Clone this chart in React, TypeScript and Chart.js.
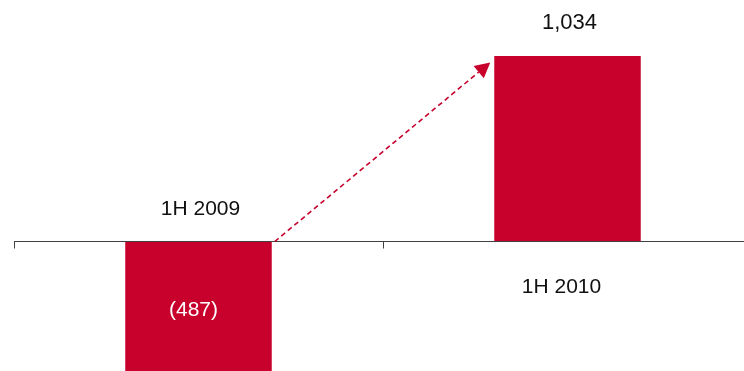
import React, { useEffect, useRef } from "react";
import { Chart, registerables } from "chart.js";

Chart.register(...registerables);

const categories: string[] = ["1H 2009", "1H 2010"];
const values: number[] = [-487, 1034];

const BAR_COLOR = "#C8002C";
const FONT = "'Liberation Sans', Arial, sans-serif";

function fmt(v: number): string {
  return v < 0 ? `(${Math.abs(v).toLocaleString("en-US")})` : v.toLocaleString("en-US");
}

const overlayPlugin = {
  id: "overlay",
  afterDatasetsDraw(chart: any) {
    const ctx: CanvasRenderingContext2D = chart.ctx;
    const area = chart.chartArea;
    const yPos = chart.scales.y;
    const zeroY = Math.round(yPos.getPixelForValue(0)) + 0.5;
    const xs = chart.scales.x;
    ctx.save();
    // axis line
    ctx.strokeStyle = "#404040";
    ctx.lineWidth = 1;
    ctx.beginPath();
    ctx.moveTo(area.left, zeroY);
    ctx.lineTo(area.right, zeroY);
    ctx.stroke();
    // tick marks at category boundaries
    const p0 = xs.getPixelForValue(0);
    const p1 = xs.getPixelForValue(1);
    const bounds = [area.left, (p0 + p1) / 2, area.right];
    ctx.beginPath();
    bounds.forEach((b) => {
      const x = Math.round(b) + 0.5;
      ctx.moveTo(x, zeroY);
      ctx.lineTo(x, zeroY + 7);
    });
    ctx.stroke();

    // bars & labels
    ctx.textAlign = "center";
    ctx.textBaseline = "middle";
    const bars: any[] = [];
    values.forEach((v, i) => {
      const dsIndex = v < 0 ? 0 : 1;
      const el = chart.getDatasetMeta(dsIndex).data[i];
      bars.push(el);
      const cx = el.x;
      ctx.fillStyle = "#111111";
      ctx.font = `21px ${FONT}`;
      if (v < 0) {
        ctx.fillText(categories[i], cx + 2, zeroY - 32);
        ctx.fillStyle = "#FFFFFF";
        ctx.fillText(fmt(v), cx - 5, zeroY + 69);
      } else {
        ctx.fillText(categories[i], cx - 6, zeroY + 46);
        ctx.font = `22px ${FONT}`;
        ctx.fillText(fmt(v), cx + 2, el.y - 33);
      }
    });

    // dashed arrow from bar 1 to bar 2
    const b1 = bars[0];
    const b2 = bars[1];
    const sx = b1.x + b1.width / 2 + 3;
    const sy = zeroY;
    const ex = b2.x - b2.width / 2 - 4;
    const ey = b2.y + 6.5;
    const ang = Math.atan2(ey - sy, ex - sx);
    const headLen = 15;
    const headW = 8;
    const lx = ex - headLen * Math.cos(ang);
    const ly = ey - headLen * Math.sin(ang);
    ctx.strokeStyle = BAR_COLOR;
    ctx.lineWidth = 1.6;
    ctx.setLineDash([5, 3.5]);
    ctx.beginPath();
    ctx.moveTo(sx, sy);
    ctx.lineTo(lx, ly);
    ctx.stroke();
    ctx.setLineDash([]);
    ctx.fillStyle = BAR_COLOR;
    ctx.beginPath();
    ctx.moveTo(ex, ey);
    ctx.lineTo(lx + headW * Math.sin(ang), ly - headW * Math.cos(ang));
    ctx.lineTo(lx - headW * Math.sin(ang), ly + headW * Math.cos(ang));
    ctx.closePath();
    ctx.fill();
    ctx.restore();
  },
};

export default function App() {
  const canvasRef = useRef<HTMLCanvasElement | null>(null);

  useEffect(() => {
    if (!canvasRef.current) return;
    const chart = new Chart(canvasRef.current, {
      type: "bar",
      data: {
        labels: categories,
        datasets: [
          {
            label: "negative",
            data: values.map((v) => (v < 0 ? v : null)),
            backgroundColor: BAR_COLOR,
            yAxisID: "y2",
            grouped: false,
            categoryPercentage: 1,
            barPercentage: 0.397,
          } as any,
          {
            label: "positive",
            data: values.map((v) => (v >= 0 ? v : null)),
            backgroundColor: BAR_COLOR,
            yAxisID: "y",
            grouped: false,
            categoryPercentage: 1,
            barPercentage: 0.397,
          } as any,
        ],
      },
      options: {
        animation: false,
        responsive: true,
        maintainAspectRatio: false,
        layout: { padding: { left: 14, right: 8, top: 0, bottom: 0 } },
        plugins: { legend: { display: false }, tooltip: { enabled: false } },
        scales: {
          x: { display: false, offset: true },
          y: { display: false, min: -727, max: 1347 },
          y2: { display: false, min: -455, max: 844 },
        },
      },
      plugins: [overlayPlugin],
    });
    return () => chart.destroy();
  }, []);

  return (
    <div
      style={{
        position: "fixed",
        left: 0,
        top: 0,
        width: 744,
        height: 371,
        overflow: "hidden",
        background: "#FFFFFF",
      }}
    >
      <div style={{ position: "relative", width: 760, height: 371 }}>
        <canvas ref={canvasRef} />
      </div>
    </div>
  );
}
